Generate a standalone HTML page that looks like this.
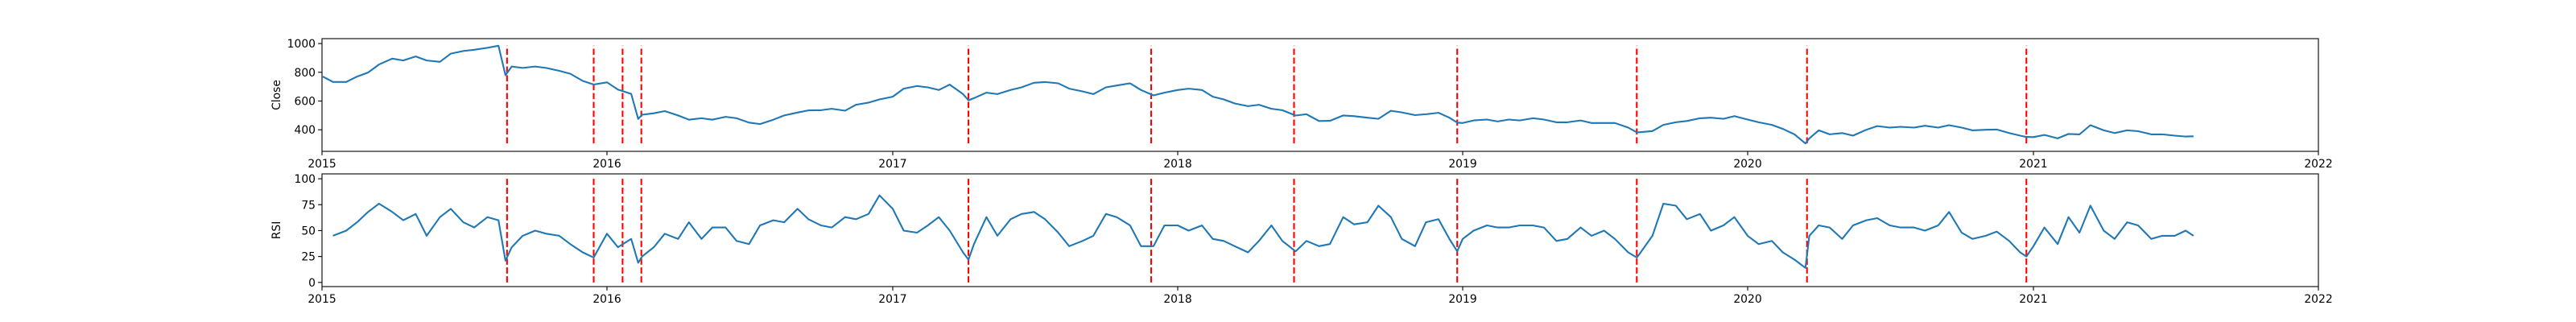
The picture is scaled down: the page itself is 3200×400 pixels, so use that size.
<!DOCTYPE html>
<html><head><meta charset="utf-8">
<style>
html,body{margin:0;padding:0;background:#fff;}
svg{display:block;font-family:"DejaVu Sans","Liberation Sans",sans-serif;}
</style></head>
<body>
<svg id="chart" width="3200" height="400" viewBox="0 0 3200 400" xmlns="http://www.w3.org/2000/svg"></svg>
<script>
const dates = ["2015-01-02","2015-01-15","2015-02-01","2015-02-15","2015-03-01","2015-03-15","2015-04-01","2015-04-15","2015-05-01","2015-05-15","2015-06-01","2015-06-15","2015-07-01","2015-07-15","2015-08-01","2015-08-15","2015-08-24","2015-09-01","2015-09-15","2015-10-01","2015-10-15","2015-11-01","2015-11-15","2015-12-01","2015-12-15","2016-01-01","2016-01-15","2016-02-01","2016-02-10","2016-02-15","2016-03-01","2016-03-15","2016-04-01","2016-04-15","2016-05-01","2016-05-15","2016-06-01","2016-06-15","2016-07-01","2016-07-15","2016-08-01","2016-08-15","2016-09-01","2016-09-15","2016-10-01","2016-10-15","2016-11-01","2016-11-15","2016-12-01","2016-12-15","2017-01-01","2017-01-15","2017-02-01","2017-02-15","2017-03-01","2017-03-15","2017-04-01","2017-04-08","2017-04-15","2017-05-01","2017-05-15","2017-06-01","2017-06-15","2017-07-01","2017-07-15","2017-08-01","2017-08-15","2017-09-01","2017-09-15","2017-10-01","2017-10-15","2017-11-01","2017-11-15","2017-12-01","2017-12-15","2018-01-01","2018-01-15","2018-02-01","2018-02-15","2018-03-01","2018-03-15","2018-04-01","2018-04-15","2018-05-01","2018-05-15","2018-06-01","2018-06-15","2018-07-01","2018-07-15","2018-08-01","2018-08-15","2018-09-01","2018-09-15","2018-10-01","2018-10-15","2018-11-01","2018-11-15","2018-12-01","2018-12-15","2018-12-25","2019-01-01","2019-01-15","2019-02-01","2019-02-15","2019-03-01","2019-03-15","2019-04-01","2019-04-15","2019-05-01","2019-05-15","2019-06-01","2019-06-15","2019-07-01","2019-07-15","2019-08-01","2019-08-12","2019-08-15","2019-09-01","2019-09-15","2019-10-01","2019-10-15","2019-11-01","2019-11-15","2019-12-01","2019-12-15","2020-01-01","2020-01-15","2020-02-01","2020-02-15","2020-03-01","2020-03-15","2020-03-20","2020-04-01","2020-04-15","2020-05-01","2020-05-15","2020-06-01","2020-06-15","2020-07-01","2020-07-15","2020-08-01","2020-08-15","2020-09-01","2020-09-15","2020-10-01","2020-10-15","2020-11-01","2020-11-15","2020-12-01","2020-12-15","2020-12-23","2021-01-01","2021-01-15","2021-02-01","2021-02-15","2021-03-01","2021-03-15","2021-04-01","2021-04-15","2021-05-01","2021-05-15","2021-06-01","2021-06-15","2021-07-01","2021-07-15","2021-07-25"];
const closeValues = [770,733,733,770,798,854,895,882,910,882,873,930,948,957,970,985,780,840,830,840,830,810,790,740,715,730,680,650,475,505,515,530,500,470,480,470,490,480,450,440,470,500,520,535,536,546,533,574,589,611,630,686,704,695,677,714,648,605,620,658,648,677,695,727,732,723,686,667,648,695,708,723,677,639,658,677,686,677,630,611,583,564,574,546,536,499,508,461,462,500,495,484,476,532,521,502,508,518,484,450,447,465,471,458,471,465,480,471,452,452,465,447,447,447,415,383,383,391,434,452,461,480,484,476,495,471,452,434,406,368,305,340,396,368,377,359,400,426,415,421,415,428,415,432,415,396,400,402,377,359,350,349,364,340,371,368,432,396,377,396,390,368,368,359,353,355];
const rsiValues = [null,45,50,58,68,76,68,60,66,45,63,71,58,53,63,60,21,34,45,50,47,45,37,29,24,47,34,42,19,25,34,47,42,58,42,53,53,40,37,55,60,58,71,61,55,53,63,61,66,84,71,50,48,55,63,50,29,22,37,63,45,61,66,68,61,48,35,40,45,66,63,55,35,35,55,55,50,55,42,40,35,29,40,55,40,30,40,35,37,63,56,58,74,63,42,35,58,61,42,30,42,50,55,53,53,55,55,53,40,42,53,45,50,42,29,24,27,45,76,74,61,66,50,55,63,45,37,40,29,22,14,45,55,53,42,55,60,62,55,53,53,50,55,68,48,42,45,49,40,29,25,35,53,37,63,48,74,50,42,58,55,42,45,45,50,45];
const eventDates = ["2015-08-26","2015-12-15","2016-01-21","2016-02-14","2017-04-08","2017-11-28","2018-05-30","2018-12-25","2019-08-12","2020-03-17","2020-12-23"];
const xTickLabels = ["2015","2016","2017","2018","2019","2020","2021","2022"];
const closeTicks = [400,600,800,1000];
const rsiTicks = [0,25,50,75,100];

const NS = "http://www.w3.org/2000/svg";
const svg = document.getElementById("chart");
const L = 400, R = 2880;
const x0 = Date.UTC(2015,0,1), x1 = Date.UTC(2022,0,1);
function toT(s){const p=s.split("-").map(Number);return Date.UTC(p[0],p[1]-1,p[2]);}
function xs(s){return L + (toT(s)-x0)/(x1-x0)*(R-L);}
function mk(tag, attrs, parent){const e=document.createElementNS(NS,tag);for(const k in attrs)e.setAttribute(k,attrs[k]);(parent||svg).appendChild(e);return e;}

function panel(name, top, bottom, ymin, ymax, values, ticks, ylabel, vlo, vhi){
  const ys = v => bottom - (v-ymin)/(ymax-ymin)*(bottom-top);
  const g = mk("g",{});
  
  
  // event lines
  eventDates.forEach(d=>{
    const ln = mk("line",{x1:xs(d),x2:xs(d),y1:ys(vlo),y2:ys(vhi),stroke:"#ff0000","stroke-width":2.08,"stroke-dasharray":"7.7 3.3"},g);
    
    
  });
  // series
  let dstr="";let started=false;
  values.forEach((v,i)=>{ if(v===null) return; dstr += (started?"L":"M")+xs(dates[i]).toFixed(1)+","+ys(v).toFixed(1); started=true; });
  const path = mk("path",{d:dstr,fill:"none",stroke:"#1f77b4","stroke-width":2.08,"stroke-linejoin":"round"},g);
  
  
  // frame
  const fr = mk("rect",{x:L,y:top,width:R-L,height:bottom-top,fill:"none",stroke:"#000","stroke-width":1.1},g);
  
  
  // y ticks
  ticks.forEach(t=>{
    const y=ys(t);
    mk("line",{x1:L-4.9,x2:L,y1:y,y2:y,stroke:"#000","stroke-width":1.1},g);
    const tx = mk("text",{x:L-8,y:y+5,"text-anchor":"end","font-size":"13.9px",fill:"#000"},g);
    tx.textContent=t;
    
    
  });
  // x ticks
  xTickLabels.forEach(lab=>{
    const x=xs(lab+"-01-01");
    mk("line",{x1:x,x2:x,y1:bottom,y2:bottom+4.9,stroke:"#000","stroke-width":1.1},g);
    const tx = mk("text",{x:x,y:bottom+20,"text-anchor":"middle","font-size":"13.9px",fill:"#000"},g);
    tx.textContent=lab;
    
    
  });
  const yl = mk("text",{x:0,y:0,"text-anchor":"middle","font-size":"13.9px",fill:"#000",transform:`translate(348,${(top+bottom)/2}) rotate(-90)`},g);
  yl.textContent=ylabel;
  
  
}
const cvals = closeValues.filter(v=>v!==null);
panel("close",48,188,250,1034,closeValues,closeTicks,"Close",Math.min(...cvals),Math.max(...cvals));
panel("rsi",216,356,-4,104.7,rsiValues,rsiTicks,"RSI",0,100);
</script>
</body></html>
